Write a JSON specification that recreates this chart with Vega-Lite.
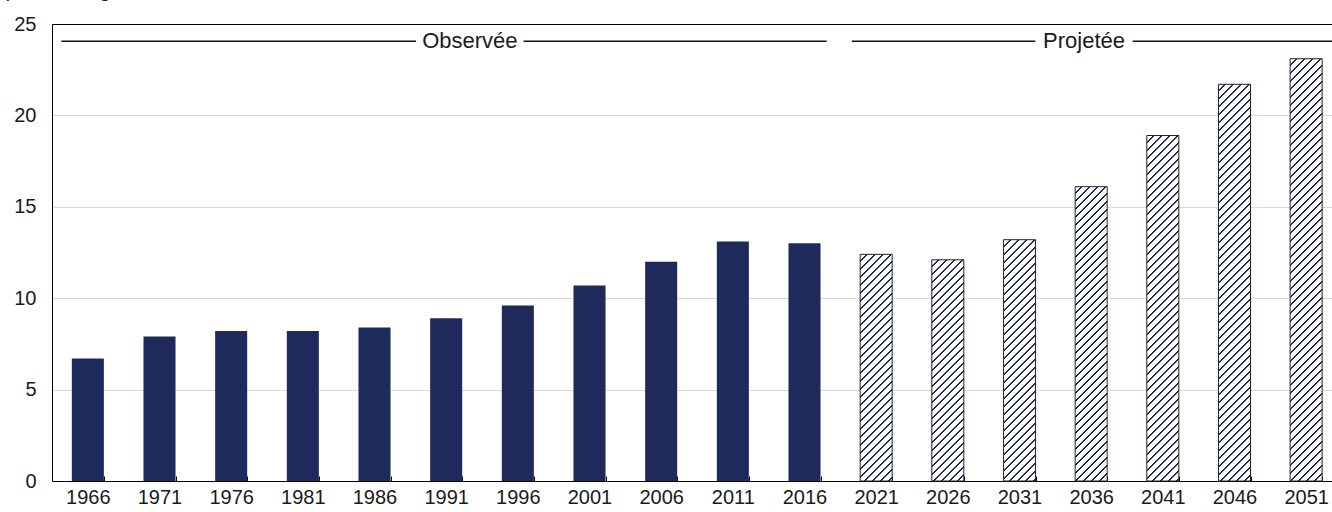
{
  "$schema": "https://vega.github.io/schema/vega-lite/v6.json",
  "autosize": {"type": "none"},
  "padding": {"left": 52, "top": 24, "right": 0, "bottom": 31},
  "width": 1280,
  "height": 457,
  "background": "#ffffff",
  "config": {
    "view": {"stroke": null},
    "font": "Liberation Sans",
    "axis": {"labelFont": "Liberation Sans", "titleFont": "Liberation Sans"}
  },
  "params": [
    {"name": "hatchStops", "value": [
      {"offset":0,"color":"#fff"},{"offset":0.0125,"color":"#fff"},{"offset":0.0125,"color":"#1f2a5c"},{"offset":0.01667,"color":"#1f2a5c"},
      {"offset":0.01667,"color":"#fff"},{"offset":0.02917,"color":"#fff"},{"offset":0.02917,"color":"#1f2a5c"},{"offset":0.03333,"color":"#1f2a5c"},
      {"offset":0.03333,"color":"#fff"},{"offset":0.04583,"color":"#fff"},{"offset":0.04583,"color":"#1f2a5c"},{"offset":0.05,"color":"#1f2a5c"},
      {"offset":0.05,"color":"#fff"},{"offset":0.0625,"color":"#fff"},{"offset":0.0625,"color":"#1f2a5c"},{"offset":0.06667,"color":"#1f2a5c"},
      {"offset":0.06667,"color":"#fff"},{"offset":0.07917,"color":"#fff"},{"offset":0.07917,"color":"#1f2a5c"},{"offset":0.08333,"color":"#1f2a5c"},
      {"offset":0.08333,"color":"#fff"},{"offset":0.09583,"color":"#fff"},{"offset":0.09583,"color":"#1f2a5c"},{"offset":0.1,"color":"#1f2a5c"},
      {"offset":0.1,"color":"#fff"},{"offset":0.1125,"color":"#fff"},{"offset":0.1125,"color":"#1f2a5c"},{"offset":0.11667,"color":"#1f2a5c"},
      {"offset":0.11667,"color":"#fff"},{"offset":0.12917,"color":"#fff"},{"offset":0.12917,"color":"#1f2a5c"},{"offset":0.13333,"color":"#1f2a5c"},
      {"offset":0.13333,"color":"#fff"},{"offset":0.14583,"color":"#fff"},{"offset":0.14583,"color":"#1f2a5c"},{"offset":0.15,"color":"#1f2a5c"},
      {"offset":0.15,"color":"#fff"},{"offset":0.1625,"color":"#fff"},{"offset":0.1625,"color":"#1f2a5c"},{"offset":0.16667,"color":"#1f2a5c"},
      {"offset":0.16667,"color":"#fff"},{"offset":0.17917,"color":"#fff"},{"offset":0.17917,"color":"#1f2a5c"},{"offset":0.18333,"color":"#1f2a5c"},
      {"offset":0.18333,"color":"#fff"},{"offset":0.19583,"color":"#fff"},{"offset":0.19583,"color":"#1f2a5c"},{"offset":0.2,"color":"#1f2a5c"},
      {"offset":0.2,"color":"#fff"},{"offset":0.2125,"color":"#fff"},{"offset":0.2125,"color":"#1f2a5c"},{"offset":0.21667,"color":"#1f2a5c"},
      {"offset":0.21667,"color":"#fff"},{"offset":0.22917,"color":"#fff"},{"offset":0.22917,"color":"#1f2a5c"},{"offset":0.23333,"color":"#1f2a5c"},
      {"offset":0.23333,"color":"#fff"},{"offset":0.24583,"color":"#fff"},{"offset":0.24583,"color":"#1f2a5c"},{"offset":0.25,"color":"#1f2a5c"},
      {"offset":0.25,"color":"#fff"},{"offset":0.2625,"color":"#fff"},{"offset":0.2625,"color":"#1f2a5c"},{"offset":0.26667,"color":"#1f2a5c"},
      {"offset":0.26667,"color":"#fff"},{"offset":0.27917,"color":"#fff"},{"offset":0.27917,"color":"#1f2a5c"},{"offset":0.28333,"color":"#1f2a5c"},
      {"offset":0.28333,"color":"#fff"},{"offset":0.29583,"color":"#fff"},{"offset":0.29583,"color":"#1f2a5c"},{"offset":0.3,"color":"#1f2a5c"},
      {"offset":0.3,"color":"#fff"},{"offset":0.3125,"color":"#fff"},{"offset":0.3125,"color":"#1f2a5c"},{"offset":0.31667,"color":"#1f2a5c"},
      {"offset":0.31667,"color":"#fff"},{"offset":0.32917,"color":"#fff"},{"offset":0.32917,"color":"#1f2a5c"},{"offset":0.33333,"color":"#1f2a5c"},
      {"offset":0.33333,"color":"#fff"},{"offset":0.34583,"color":"#fff"},{"offset":0.34583,"color":"#1f2a5c"},{"offset":0.35,"color":"#1f2a5c"},
      {"offset":0.35,"color":"#fff"},{"offset":0.3625,"color":"#fff"},{"offset":0.3625,"color":"#1f2a5c"},{"offset":0.36667,"color":"#1f2a5c"},
      {"offset":0.36667,"color":"#fff"},{"offset":0.37917,"color":"#fff"},{"offset":0.37917,"color":"#1f2a5c"},{"offset":0.38333,"color":"#1f2a5c"},
      {"offset":0.38333,"color":"#fff"},{"offset":0.39583,"color":"#fff"},{"offset":0.39583,"color":"#1f2a5c"},{"offset":0.4,"color":"#1f2a5c"},
      {"offset":0.4,"color":"#fff"},{"offset":0.4125,"color":"#fff"},{"offset":0.4125,"color":"#1f2a5c"},{"offset":0.41667,"color":"#1f2a5c"},
      {"offset":0.41667,"color":"#fff"},{"offset":0.42917,"color":"#fff"},{"offset":0.42917,"color":"#1f2a5c"},{"offset":0.43333,"color":"#1f2a5c"},
      {"offset":0.43333,"color":"#fff"},{"offset":0.44583,"color":"#fff"},{"offset":0.44583,"color":"#1f2a5c"},{"offset":0.45,"color":"#1f2a5c"},
      {"offset":0.45,"color":"#fff"},{"offset":0.4625,"color":"#fff"},{"offset":0.4625,"color":"#1f2a5c"},{"offset":0.46667,"color":"#1f2a5c"},
      {"offset":0.46667,"color":"#fff"},{"offset":0.47917,"color":"#fff"},{"offset":0.47917,"color":"#1f2a5c"},{"offset":0.48333,"color":"#1f2a5c"},
      {"offset":0.48333,"color":"#fff"},{"offset":0.49583,"color":"#fff"},{"offset":0.49583,"color":"#1f2a5c"},{"offset":0.5,"color":"#1f2a5c"},
      {"offset":0.5,"color":"#fff"},{"offset":0.5125,"color":"#fff"},{"offset":0.5125,"color":"#1f2a5c"},{"offset":0.51667,"color":"#1f2a5c"},
      {"offset":0.51667,"color":"#fff"},{"offset":0.52917,"color":"#fff"},{"offset":0.52917,"color":"#1f2a5c"},{"offset":0.53333,"color":"#1f2a5c"},
      {"offset":0.53333,"color":"#fff"},{"offset":0.54583,"color":"#fff"},{"offset":0.54583,"color":"#1f2a5c"},{"offset":0.55,"color":"#1f2a5c"},
      {"offset":0.55,"color":"#fff"},{"offset":0.5625,"color":"#fff"},{"offset":0.5625,"color":"#1f2a5c"},{"offset":0.56667,"color":"#1f2a5c"},
      {"offset":0.56667,"color":"#fff"},{"offset":0.57917,"color":"#fff"},{"offset":0.57917,"color":"#1f2a5c"},{"offset":0.58333,"color":"#1f2a5c"},
      {"offset":0.58333,"color":"#fff"},{"offset":0.59583,"color":"#fff"},{"offset":0.59583,"color":"#1f2a5c"},{"offset":0.6,"color":"#1f2a5c"},
      {"offset":0.6,"color":"#fff"},{"offset":0.6125,"color":"#fff"},{"offset":0.6125,"color":"#1f2a5c"},{"offset":0.61667,"color":"#1f2a5c"},
      {"offset":0.61667,"color":"#fff"},{"offset":0.62917,"color":"#fff"},{"offset":0.62917,"color":"#1f2a5c"},{"offset":0.63333,"color":"#1f2a5c"},
      {"offset":0.63333,"color":"#fff"},{"offset":0.64583,"color":"#fff"},{"offset":0.64583,"color":"#1f2a5c"},{"offset":0.65,"color":"#1f2a5c"},
      {"offset":0.65,"color":"#fff"},{"offset":0.6625,"color":"#fff"},{"offset":0.6625,"color":"#1f2a5c"},{"offset":0.66667,"color":"#1f2a5c"},
      {"offset":0.66667,"color":"#fff"},{"offset":0.67917,"color":"#fff"},{"offset":0.67917,"color":"#1f2a5c"},{"offset":0.68333,"color":"#1f2a5c"},
      {"offset":0.68333,"color":"#fff"},{"offset":0.69583,"color":"#fff"},{"offset":0.69583,"color":"#1f2a5c"},{"offset":0.7,"color":"#1f2a5c"},
      {"offset":0.7,"color":"#fff"},{"offset":0.7125,"color":"#fff"},{"offset":0.7125,"color":"#1f2a5c"},{"offset":0.71667,"color":"#1f2a5c"},
      {"offset":0.71667,"color":"#fff"},{"offset":0.72917,"color":"#fff"},{"offset":0.72917,"color":"#1f2a5c"},{"offset":0.73333,"color":"#1f2a5c"},
      {"offset":0.73333,"color":"#fff"},{"offset":0.74583,"color":"#fff"},{"offset":0.74583,"color":"#1f2a5c"},{"offset":0.75,"color":"#1f2a5c"},
      {"offset":0.75,"color":"#fff"},{"offset":0.7625,"color":"#fff"},{"offset":0.7625,"color":"#1f2a5c"},{"offset":0.76667,"color":"#1f2a5c"},
      {"offset":0.76667,"color":"#fff"},{"offset":0.77917,"color":"#fff"},{"offset":0.77917,"color":"#1f2a5c"},{"offset":0.78333,"color":"#1f2a5c"},
      {"offset":0.78333,"color":"#fff"},{"offset":0.79583,"color":"#fff"},{"offset":0.79583,"color":"#1f2a5c"},{"offset":0.8,"color":"#1f2a5c"},
      {"offset":0.8,"color":"#fff"},{"offset":0.8125,"color":"#fff"},{"offset":0.8125,"color":"#1f2a5c"},{"offset":0.81667,"color":"#1f2a5c"},
      {"offset":0.81667,"color":"#fff"},{"offset":0.82917,"color":"#fff"},{"offset":0.82917,"color":"#1f2a5c"},{"offset":0.83333,"color":"#1f2a5c"},
      {"offset":0.83333,"color":"#fff"},{"offset":0.84583,"color":"#fff"},{"offset":0.84583,"color":"#1f2a5c"},{"offset":0.85,"color":"#1f2a5c"},
      {"offset":0.85,"color":"#fff"},{"offset":0.8625,"color":"#fff"},{"offset":0.8625,"color":"#1f2a5c"},{"offset":0.86667,"color":"#1f2a5c"},
      {"offset":0.86667,"color":"#fff"},{"offset":0.87917,"color":"#fff"},{"offset":0.87917,"color":"#1f2a5c"},{"offset":0.88333,"color":"#1f2a5c"},
      {"offset":0.88333,"color":"#fff"},{"offset":0.89583,"color":"#fff"},{"offset":0.89583,"color":"#1f2a5c"},{"offset":0.9,"color":"#1f2a5c"},
      {"offset":0.9,"color":"#fff"},{"offset":0.9125,"color":"#fff"},{"offset":0.9125,"color":"#1f2a5c"},{"offset":0.91667,"color":"#1f2a5c"},
      {"offset":0.91667,"color":"#fff"},{"offset":0.92917,"color":"#fff"},{"offset":0.92917,"color":"#1f2a5c"},{"offset":0.93333,"color":"#1f2a5c"},
      {"offset":0.93333,"color":"#fff"},{"offset":0.94583,"color":"#fff"},{"offset":0.94583,"color":"#1f2a5c"},{"offset":0.95,"color":"#1f2a5c"},
      {"offset":0.95,"color":"#fff"},{"offset":0.9625,"color":"#fff"},{"offset":0.9625,"color":"#1f2a5c"},{"offset":0.96667,"color":"#1f2a5c"},
      {"offset":0.96667,"color":"#fff"},{"offset":0.97917,"color":"#fff"},{"offset":0.97917,"color":"#1f2a5c"},{"offset":0.98333,"color":"#1f2a5c"},
      {"offset":0.98333,"color":"#fff"},{"offset":0.99583,"color":"#fff"},{"offset":0.99583,"color":"#1f2a5c"},{"offset":1,"color":"#1f2a5c"}
    ]}
  ],
  "layer": [
    {
      "data": {"values": [
        {"annee": "1966", "valeur": 6.7, "serie": "Observée"},
        {"annee": "1971", "valeur": 7.9, "serie": "Observée"},
        {"annee": "1976", "valeur": 8.2, "serie": "Observée"},
        {"annee": "1981", "valeur": 8.2, "serie": "Observée"},
        {"annee": "1986", "valeur": 8.4, "serie": "Observée"},
        {"annee": "1991", "valeur": 8.9, "serie": "Observée"},
        {"annee": "1996", "valeur": 9.6, "serie": "Observée"},
        {"annee": "2001", "valeur": 10.7, "serie": "Observée"},
        {"annee": "2006", "valeur": 12.0, "serie": "Observée"},
        {"annee": "2011", "valeur": 13.1, "serie": "Observée"},
        {"annee": "2016", "valeur": 13.0, "serie": "Observée"},
        {"annee": "2021", "valeur": 12.4, "serie": "Projetée"},
        {"annee": "2026", "valeur": 12.1, "serie": "Projetée"},
        {"annee": "2031", "valeur": 13.2, "serie": "Projetée"},
        {"annee": "2036", "valeur": 16.1, "serie": "Projetée"},
        {"annee": "2041", "valeur": 18.9, "serie": "Projetée"},
        {"annee": "2046", "valeur": 21.7, "serie": "Projetée"},
        {"annee": "2051", "valeur": 23.1, "serie": "Projetée"}
      ]},
      "mark": {
        "type": "bar",
        "fill": {"expr": "datum.serie === 'Projetée' ? {gradient: 'linear', x1: 0, y1: 0, x2: 480 * 32 / (1024 + pow(scale('y', 0) - scale('y', datum.valeur), 2)), y2: 480 * (scale('y', 0) - scale('y', datum.valeur)) / (1024 + pow(scale('y', 0) - scale('y', datum.valeur), 2)), stops: hatchStops} : '#1f2a5c'"},
        "stroke": {"expr": "datum.serie === 'Projetée' ? '#222222' : null"},
        "strokeWidth": 1
      },
      "encoding": {
        "x": {
          "field": "annee", "type": "nominal", "sort": null,
          "scale": {"range": [0, 1290], "paddingInner": 0.553, "paddingOuter": 0.2765},
          "axis": {
            "title": null, "labelAngle": 0, "labelFontSize": 20, "labelColor": "#1a1a1a",
            "domainColor": "#000000", "domainWidth": 1, "tickColor": "#000000",
            "tickBand": "extent", "tickSize": -5, "labelPadding": 11, "grid": false
          }
        },
        "y": {
          "field": "valeur", "type": "quantitative",
          "scale": {"domain": [0, 25], "nice": false},
          "axis": {
            "values": [0, 5, 10, 15, 20, 25], "grid": true, "gridColor": "#d9d9d9",
            "domainColor": "#000000", "ticks": false, "labelFontSize": 20, "labelColor": "#1a1a1a",
            "labelPadding": 16,
            "title": "pourcentage", "titleAngle": 0, "titleAlign": "left", "titleBaseline": "alphabetic",
            "titleX": -47, "titleY": -28, "titleFontSize": 21, "titleFontWeight": "normal", "titleColor": "#1a1a1a"
          }
        }
      }
    },
    {
      "layer": [
        {
          "data": {"values": [
            {"debut": 0.13, "fin": 5.08},
            {"debut": 6.58, "fin": 10.81},
            {"debut": 11.16, "fin": 13.72},
            {"debut": 15.08, "fin": 18}
          ]},
          "mark": {"type": "rule", "color": "#111111", "strokeWidth": 1.5},
          "encoding": {
            "x": {"field": "debut", "type": "quantitative",
              "scale": {"domain": [0, 18], "range": [0, 1290], "nice": false, "zero": false},
              "axis": {"orient": "top", "labels": false, "ticks": false, "grid": false, "domainColor": "#000000", "title": null}},
            "x2": {"field": "fin"},
            "y": {"datum": 24.05, "type": "quantitative"}
          }
        },
        {
          "mark": {"type": "rule", "color": "#222222", "strokeWidth": 1.5},
          "encoding": {
            "x": {"datum": 11, "type": "quantitative",
              "scale": {"domain": [0, 18], "range": [0, 1290], "nice": false, "zero": false},
              "axis": {"orient": "top", "labels": false, "ticks": false, "grid": false, "domainColor": "#000000", "title": null}}
          }
        },
        {
          "data": {"values": [
            {"periode": "Observée", "centre": 5.83},
            {"periode": "Projetée", "centre": 14.4}
          ]},
          "mark": {"type": "text", "fontSize": 22, "color": "#1a1a1a", "baseline": "middle", "align": "center", "font": "Liberation Sans"},
          "encoding": {
            "x": {"field": "centre", "type": "quantitative",
              "scale": {"domain": [0, 18], "range": [0, 1290], "nice": false, "zero": false},
              "axis": {"orient": "top", "labels": false, "ticks": false, "grid": false, "domainColor": "#000000", "title": null}},
            "y": {"datum": 24.05, "type": "quantitative"},
            "text": {"field": "periode"}
          }
        }
      ]
    }
  ],
  "resolve": {"scale": {"x": "independent"}, "axis": {"x": "independent"}}
}
